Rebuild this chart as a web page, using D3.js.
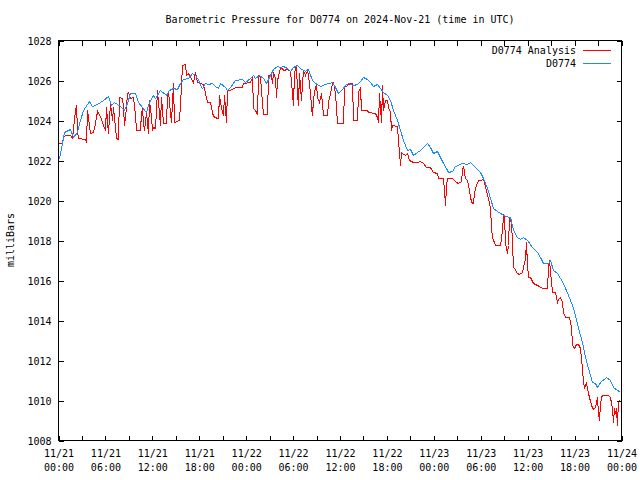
<!DOCTYPE html>
<html><head><meta charset="utf-8">
<script src="https://cdn.jsdelivr.net/npm/d3@7"></script>
<style>
html,body{margin:0;padding:0;background:#fff;}
svg{display:block;font-family:"DejaVu Sans Mono",monospace;font-size:10px;}
</style></head>
<body><svg id="c" width="640" height="480"></svg>
<script>
// Hours since 2024-11-21 00:00 UTC
const obsHours = [0,0.13,0.51,0.77,1.53,1.92,2.43,2.81,3.20,3.96,4.35,4.99,5.76,6.39,6.78,7.16,7.93,8.44,8.82,9.21,9.85,10.23,10.74,11.25,11.64,12.15,12.41,13.04,13.81,14.20,14.71,15.22,15.60,15.99,16.63,17.14,17.52,18.03,18.16,18.42,18.80,19.18,19.70,20.08,20.46,20.72,21.36,21.61,22.00,22.64,23.53,23.92,24.56,24.94,25.19,25.71,26.22,26.60,27.11,27.50,28.01,28.39,28.78,29.29,29.67,30.05,30.57,30.95,31.59,31.97,32.48,32.87,33.51,34.15,35.04,35.43,35.81,36.32,36.70,37.09,37.73,38.24,38.62,39.01,39.52,39.90,40.29,40.80,41.18,41.56,42.08,42.46,42.84,43.35,43.74,44.12,44.63,45.02,45.40,45.91,46.30,46.68,47.19,47.57,47.96,48.47,48.85,49.24,49.75,49.88,50.39,50.77,51.67,52.31,52.69,53.33,53.97,54.35,54.87,55.25,55.63,56.14,56.53,57.17,57.81,58.19,58.70,59.09,59.47,59.98,60.62,61.26,61.64,62.03,62.67,62.92,63.31,63.82,64.58,65.22,65.74,66.12,66.50,67.01,67.40,67.78,68.29,68.68,68.93,69.32,70.08,70.59,70.98,71.87];
const obsValues = [1022.1,1022.1,1022.85,1023.4,1023.55,1023.15,1023.4,1024.0,1024.5,1024.95,1024.7,1024.8,1025.0,1025.2,1024.75,1024.9,1024.7,1024.5,1024.85,1025.35,1025.35,1024.9,1024.65,1024.4,1024.9,1025.25,1025.1,1025.5,1025.25,1025.5,1025.6,1025.55,1025.85,1026.05,1026.1,1026.35,1026.25,1025.95,1025.75,1025.6,1025.85,1025.8,1025.85,1025.7,1025.6,1025.85,1025.65,1025.5,1025.65,1026.0,1026.05,1025.9,1026.1,1026.25,1026.1,1026.25,1026.1,1025.85,1026.25,1026.55,1026.7,1026.65,1026.7,1026.6,1026.45,1026.65,1026.75,1026.6,1026.45,1026.55,1026.0,1025.85,1025.7,1025.8,1025.9,1025.65,1025.35,1025.55,1025.75,1025.85,1025.75,1025.8,1025.95,1026.15,1026.05,1025.9,1025.7,1025.8,1025.6,1025.4,1025.25,1025.0,1024.5,1024.0,1023.5,1023.0,1022.5,1022.55,1022.25,1022.4,1022.5,1022.65,1022.85,1022.65,1022.35,1022.45,1022.15,1021.85,1021.5,1021.4,1021.45,1021.7,1021.85,1021.8,1021.9,1021.65,1021.4,1021.1,1020.6,1020.1,1019.6,1019.45,1019.35,1019.2,1019.15,1018.5,1018.15,1018.05,1018.15,1018.0,1017.65,1017.4,1017.15,1016.85,1016.85,1017.0,1016.5,1016.35,1015.85,1015.25,1014.75,1014.25,1013.6,1012.9,1012.15,1011.6,1010.9,1010.85,1010.65,1010.9,1011.15,1011.0,1010.65,1010.4];

const anaHours = [0,0.51,0.64,0.90,1.53,1.79,2.17,2.30,2.43,2.56,3.45,3.58,3.71,3.84,4.09,4.48,4.73,4.99,5.37,5.76,6.01,6.14,6.39,6.65,6.91,7.03,7.29,7.42,7.67,7.80,8.19,8.31,8.44,8.70,8.82,8.95,9.21,9.59,9.85,9.98,10.49,10.61,10.74,10.87,11.00,11.25,11.51,11.64,11.89,12.02,12.15,12.41,12.66,12.92,13.04,13.17,13.43,13.81,13.94,14.07,14.45,14.71,14.83,15.47,15.60,15.73,15.86,16.24,16.37,16.63,16.88,17.14,17.26,17.52,17.78,18.16,18.54,18.80,19.06,19.44,19.70,19.82,20.33,20.46,20.59,20.85,21.10,21.23,21.49,21.61,22.00,22.64,23.53,23.66,24.56,24.81,24.94,25.19,25.45,25.58,25.83,26.09,26.22,26.73,26.86,27.24,27.37,27.50,27.75,27.88,28.01,28.26,28.39,28.65,28.78,29.29,29.67,29.92,30.05,30.18,30.31,30.44,30.57,30.69,30.82,31.08,31.21,31.33,31.59,31.84,31.97,32.23,32.36,32.48,32.61,32.74,32.99,33.12,33.38,33.63,33.89,34.40,34.53,34.79,35.04,35.17,35.43,35.68,36.45,36.58,36.96,37.34,37.60,37.73,38.24,38.37,38.62,38.75,39.52,39.65,40.54,40.80,40.93,41.05,41.31,41.44,41.56,41.82,42.08,42.20,42.46,42.59,42.71,43.35,43.48,43.61,43.74,43.86,43.99,44.38,44.63,44.89,45.40,45.91,46.30,46.68,47.06,47.57,47.96,48.47,48.60,49.24,49.37,49.50,49.62,49.75,50.39,50.52,50.90,51.16,51.54,51.67,51.80,52.05,52.31,52.56,52.82,53.07,53.20,53.46,53.71,54.10,54.35,54.48,54.87,54.99,55.25,55.38,55.50,55.89,56.53,56.78,56.91,57.04,57.17,57.42,57.55,57.68,57.94,58.06,58.19,58.32,58.70,58.96,59.34,59.47,59.72,59.85,59.98,60.11,60.37,60.75,61.26,61.90,62.54,62.67,62.80,63.05,63.18,63.56,63.82,63.95,64.20,64.46,64.58,64.84,65.35,65.61,65.74,65.99,66.25,66.50,66.76,67.01,67.14,67.27,67.53,67.78,68.17,68.42,68.68,68.93,69.06,69.19,69.32,69.45,69.57,70.34,70.59,70.85,70.98,71.10,71.23,71.36,71.48,71.61,71.74,71.87];
const anaValues = [1022.85,1022.85,1023.15,1023.25,1023.25,1023.1,1024.5,1024.75,1023.5,1023.1,1023.05,1022.9,1024.5,1024.1,1023.35,1023.4,1023.85,1024.45,1024.2,1023.75,1023.5,1024.65,1023.35,1024.85,1024.0,1024.65,1023.65,1023.1,1023.05,1025.15,1025.1,1024.65,1023.75,1024.65,1025.35,1025.4,1025.1,1025.15,1024.25,1023.5,1023.5,1024.35,1024.6,1023.85,1023.5,1024.4,1023.35,1025.0,1024.2,1023.5,1023.65,1023.6,1025.5,1024.3,1023.75,1025.15,1023.85,1023.85,1025.25,1025.4,1023.9,1025.85,1023.9,1024.0,1024.75,1025.75,1026.75,1026.8,1026.25,1026.35,1026.15,1026.0,1025.9,1026.4,1025.9,1025.85,1025.8,1025.35,1024.9,1024.9,1024.4,1024.2,1024.1,1024.1,1025.25,1024.6,1024.25,1025.25,1023.9,1025.5,1025.5,1025.65,1025.65,1025.85,1025.9,1026.15,1024.6,1024.5,1024.3,1026.25,1026.15,1024.85,1024.3,1024.3,1026.25,1026.25,1025.85,1026.4,1026.1,1025.15,1026.0,1026.4,1026.6,1026.6,1026.5,1026.55,1026.45,1025.4,1024.75,1026.35,1026.6,1026.75,1025.35,1024.75,1026.35,1025.0,1025.85,1026.5,1026.25,1026.5,1026.25,1025.35,1024.65,1024.25,1025.0,1025.4,1025.85,1025.15,1024.9,1025.35,1024.25,1024.25,1024.9,1025.35,1025.85,1025.9,1025.35,1023.85,1023.85,1025.65,1025.75,1025.85,1025.85,1024.0,1024.0,1025.4,1025.65,1024.5,1024.5,1024.4,1024.35,1024.15,1023.9,1025.35,1023.9,1025.75,1024.5,1025.0,1025.0,1024.65,1024.4,1023.5,1023.75,1023.7,1023.0,1022.35,1021.75,1022.4,1022.35,1022.25,1022.35,1022.0,1021.9,1021.9,1021.95,1021.85,1021.65,1021.65,1021.4,1021.35,1021.1,1021.1,1020.4,1019.75,1020.75,1021.1,1021.1,1021.05,1020.9,1020.85,1020.95,1021.5,1021.7,1021.1,1021.0,1020.5,1019.9,1019.85,1020.4,1020.75,1021.0,1021.0,1021.1,1020.9,1020.25,1020.1,1019.6,1018.6,1018.15,1017.75,1017.75,1018.5,1019.25,1019.15,1017.85,1017.35,1017.75,1019.15,1018.85,1017.85,1016.65,1016.6,1016.35,1016.3,1016.4,1016.65,1017.1,1017.9,1016.75,1016.15,1016.15,1015.85,1015.75,1015.6,1015.6,1016.65,1017.0,1015.9,1015.4,1015.4,1014.9,1015.05,1015.15,1014.9,1014.4,1014.15,1014.15,1013.65,1012.75,1012.6,1012.8,1012.8,1012.6,1011.6,1010.9,1010.65,1010.85,1010.35,1009.75,1009.55,1009.65,1010.15,1009.35,1009.0,1009.85,1010.15,1010.25,1010.25,1010.15,1009.6,1008.9,1009.6,1009.35,1009.6,1008.75,1009.9,1010.0,1010.0];

const seriesNames = ["D0774 Analysis", "D0774"];
const seriesColors = ["#ff0000", "#1a8cff"];
const yTicks = [1008,1010,1012,1014,1016,1018,1020,1022,1024,1026,1028];
const xTickHours = [0,6,12,18,24,30,36,42,48,54,60,66,72];
const xMinorHours = [3,9,15,21,27,33,39,45,51,57,63,69];
const titleText = "Barometric Pressure for D0774 on 2024-Nov-21 (time in UTC)";
const yLabel = "milliBars";

const t0 = Date.UTC(2024,10,21,0,0,0);
const toDate = h => new Date(t0 + h*3600e3);

const L=58.5, R=621.5, T=40.5, B=440.5;
const svg = d3.select("#c");
const x = d3.scaleUtc().domain([toDate(0), toDate(72)]).range([L,R]);
const y = d3.scaleLinear().domain([1008,1028]).range([B,T]);

svg.append("text").attr("x",(L+R)/2).attr("y",23).attr("text-anchor","middle").text(titleText);
svg.append("text").attr("transform","translate(14,240) rotate(-90)").attr("text-anchor","middle").text(yLabel);

svg.append("clipPath").attr("id","clip").append("rect").attr("x",L).attr("y",T).attr("width",R-L).attr("height",B-T);

const line = d3.line().x(d=>x(toDate(d[0]))).y(d=>y(d[1]));
const ana = anaHours.map((h,i)=>[h,anaValues[i]]);
const obs = obsHours.map((h,i)=>[h,obsValues[i]]);
const gData = svg.append("g").attr("clip-path","url(#clip)");
gData.append("path").datum(ana).attr("d",line).attr("fill","none").attr("stroke",seriesColors[0]).attr("stroke-width",1).attr("shape-rendering","crispEdges");
gData.append("path").datum(obs).attr("d",line).attr("fill","none").attr("stroke",seriesColors[1]).attr("stroke-width",1).attr("shape-rendering","crispEdges");

const fmtD = d3.utcFormat("%m/%d"), fmtT = d3.utcFormat("%H:%M");
const gx = svg.append("g").attr("transform",`translate(0,${B})`)
  .call(d3.axisBottom(x).tickValues(xTickHours.map(toDate)).tickSizeInner(-5).tickSizeOuter(0).tickFormat(fmtD));
gx.select(".domain").remove();
gx.selectAll(".tick text").each(function(d){
  const t=d3.select(this); t.attr("dy",null).attr("y",null).text(null);
  t.append("tspan").attr("x",0).attr("y",16).text(fmtD(d));
  t.append("tspan").attr("x",0).attr("y",30).text(fmtT(d));
});
const gxm = svg.append("g").attr("transform",`translate(0,${B})`)
  .call(d3.axisBottom(x).tickValues(xMinorHours.map(toDate)).tickSizeInner(-5).tickSizeOuter(0).tickFormat(""));
gxm.select(".domain").remove();
const gxt = svg.append("g").attr("transform",`translate(0,${T})`)
  .call(d3.axisTop(x).tickValues(xTickHours.concat(xMinorHours).map(toDate)).tickSizeInner(-5).tickSizeOuter(0).tickFormat(""));
gxt.select(".domain").remove();

const gy = svg.append("g").attr("transform",`translate(${L},0)`)
  .call(d3.axisLeft(y).tickValues(yTicks).tickSizeInner(-5).tickSizeOuter(0).tickPadding(7).tickFormat(d3.format("d")));
gy.select(".domain").remove();
gy.selectAll(".tick text").attr("dy","0.35em");
const gyr = svg.append("g").attr("transform",`translate(${R},0)`)
  .call(d3.axisRight(y).tickValues(yTicks).tickSizeInner(-5).tickSizeOuter(0).tickFormat(""));
gyr.select(".domain").remove();
svg.selectAll(".tick line").attr("stroke","#000").attr("shape-rendering","crispEdges");
svg.selectAll(".tick text").attr("fill","#000").style("font-family",'"DejaVu Sans Mono",monospace').style("font-size","10px");

svg.append("rect").attr("x",L).attr("y",T).attr("width",R-L).attr("height",B-T)
  .attr("fill","none").attr("stroke","#000").attr("shape-rendering","crispEdges");

const leg = svg.append("g");
seriesNames.forEach((n,i)=>{
  const yy = 50 + i*13;
  leg.append("text").attr("x",576).attr("y",yy+3.5).attr("text-anchor","end").text(n);
  leg.append("line").attr("x1",583).attr("x2",611).attr("y1",yy+0.5).attr("y2",yy+0.5)
    .attr("stroke",seriesColors[i]).attr("stroke-width",1).attr("shape-rendering","crispEdges");
});
</script></body></html>
